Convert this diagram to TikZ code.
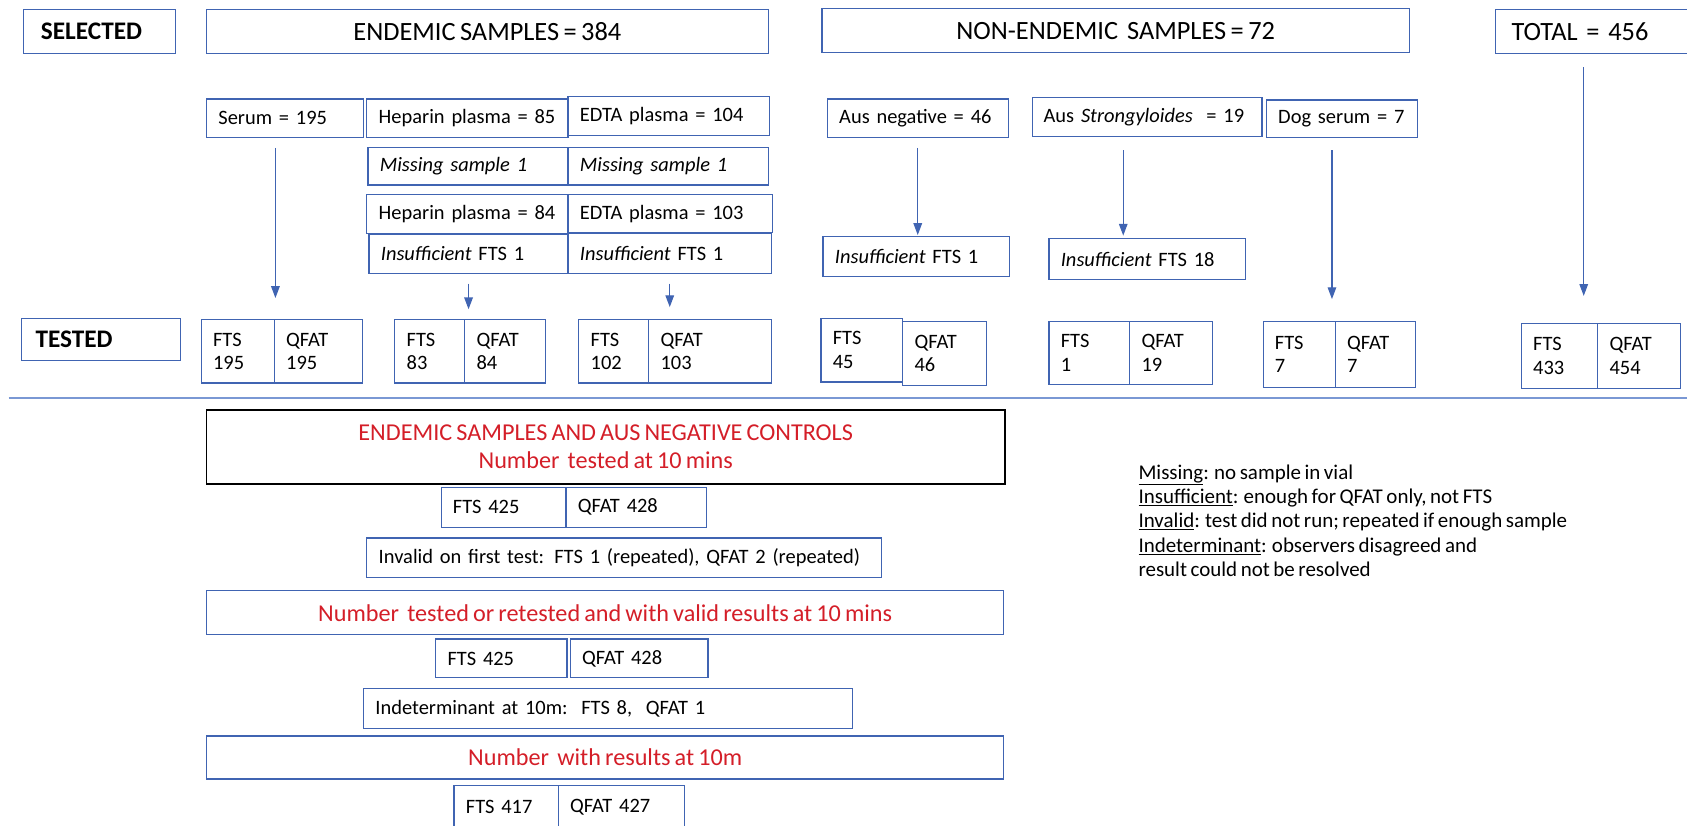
\documentclass[tikz,border=0pt]{standalone}
\usepackage{fontspec}
\setmainfont{Carlito}[WordSpace=0.75]
\usetikzlibrary{arrows.meta}
\definecolor{boxblue}{RGB}{64,100,178}
\definecolor{ruleblue}{RGB}{122,152,212}
\definecolor{textred}{RGB}{212,30,40}

\begin{document}
\begin{tikzpicture}[x=1pt,y=-1pt,
    box/.style={draw=boxblue, line width=1.1pt, inner xsep=11pt, inner ysep=0pt,
      minimum height=36pt, font=\fontsize{19}{22}\selectfont},
    lbox/.style={text width=#1, align=left},
    head/.style={box, minimum height=41pt, font=\fontsize{24.5}{28}\selectfont},
    cell/.style={lbox=#1, minimum height=59pt},
    redbox/.style={box, text=textred, align=center, font=\fontsize{22.5}{26}\selectfont},
    arr/.style={draw=boxblue, line width=1.1pt, -{Triangle[width=8pt,length=11pt]}}]
  \useasboundingbox (0,0) rectangle (1568,767);

  % selected
  \node[head, lbox=109, inner xsep=16pt, font=\bfseries\fontsize{23.5}{28}\selectfont] (sel) at (92.5,29.5) {SELECTED};
  \node[head, minimum width=522pt] (endemic) at (453,29.5) {ENDEMIC SAMPLES = 384};
  \node[head, minimum width=546pt] (nonend) at (1037,28.5) {NON-ENDEMIC\ \ SAMPLES = 72};
  \node[head, lbox=170, inner xsep=15pt] (total) at (1490,29.5) {TOTAL = 456};

  % endemic sample types
  \node[box, lbox=124] (serum) at (265,110) {Serum = 195};
  \node[box, lbox=165] (hep85) at (434.5,110) {Heparin plasma = 85};
  \node[box, lbox=165] (edta104) at (621.5,108) {EDTA plasma = 104};
  \node[box, lbox=164, minimum height=35pt] (miss1) at (435,154.5) {\textit{Missing sample 1}};
  \node[box, lbox=164, minimum height=35pt] (miss2) at (621,154.5) {\textit{Missing sample 1}};
  \node[box, lbox=165] (hep84) at (434.5,199) {Heparin plasma = 84};
  \node[box, lbox=168, minimum height=35pt] (edta103) at (623,198.5) {EDTA plasma = 103};
  \node[box, lbox=163] (ins1) at (435.5,236) {\textit{Insufficient} FTS 1};
  \node[box, lbox=167, minimum height=37pt] (ins2) at (622.5,235.5) {\textit{Insufficient} FTS 1};

  % non-endemic sample types
  \node[box, lbox=146] (ausneg) at (853,110) {Aus negative = 46};
  \node[box, lbox=193, inner xsep=10pt] (ausstr) at (1066.5,109) {Aus \textit{Strongyloides}\ \ = 19};
  \node[box, lbox=119, inner xsep=10.5pt, minimum height=35pt] (dog) at (1247.5,110.5) {Dog serum = 7};
  \node[box, lbox=151, minimum height=37pt] (insA) at (851.5,238.5) {\textit{Insufficient} FTS 1};
  \node[box, lbox=161, minimum height=38pt] (insB) at (1066.5,241) {\textit{Insufficient} FTS 18};

  % tested
  \node[head, lbox=122, minimum height=39pt, inner xsep=13pt, font=\bfseries\fontsize{23.5}{28}\selectfont] (tested) at (94,315.5) {TESTED};
  \node[box, cell=46] (f195) at (221,326.5) {FTS\\195};
  \node[box, cell=60] (q195) at (296,326.5) {QFAT\\195};
  \node[box, cell=43] (f83) at (399.5,326.5) {FTS\\83};
  \node[box, cell=53] (q84) at (469.5,326.5) {QFAT\\84};
  \node[box, cell=43] (f102) at (570.5,326.5) {FTS\\102};
  \node[box, cell=92] (q103) at (660,326.5) {QFAT\\103};
  \node[box, cell=54] (f45) at (801,325.5) {FTS\\45};
  \node[box, cell=56] (q46) at (878,328.5) {QFAT\\46};
  \node[box, cell=53, minimum height=58pt] (f1) at (1012.5,328) {FTS\\1};
  \node[box, cell=55, minimum height=58pt] (q19) at (1088.5,328) {QFAT\\19};
  \node[box, cell=45, minimum height=61pt] (f7) at (1207.5,329.5) {FTS\\7};
  \node[box, cell=53, minimum height=61pt] (q7) at (1278.5,329.5) {QFAT\\7};
  \node[box, cell=49, minimum height=60pt] (f433) at (1449.5,331) {FTS\\433};
  \node[box, cell=55, minimum height=60pt] (q454) at (1523.5,331) {QFAT\\454};

  % arrows
  \coordinate (serumtip) at (256,277);
  \coordinate (strtip) at (1044,219);
  \coordinate (dogtip) at (1238,278);
  \coordinate (totaltip) at (1472,275);
  \draw[arr, shorten <=9pt] (serum.south -| serumtip) -- (serumtip);
  \draw[arr, shorten <=9pt, shorten >=9pt] (ins1.south) -- (ins1.south |- f83.north);
  \draw[arr, shorten <=9pt, shorten >=11pt] (ins2.south) -- (ins2.south |- f102.north);
  \draw[arr, shorten <=9pt, shorten >=1pt] (ausneg.south) -- (ausneg.south |- insA.north);
  \draw[arr, shorten <=12pt] (ausstr.south -| strtip) -- (strtip);
  \draw[arr, shorten <=11pt] (dog.south -| dogtip) -- (dogtip);
  \draw[arr, shorten <=12pt] (total.south -| totaltip) -- (totaltip);

  % rule
  \coordinate (ruleL) at (8,370);
  \coordinate (ruleR) at (1568,370);
  \draw[ruleblue, line width=1.6pt] (ruleL) -- (ruleR);

  % results at 10 mins
  \node[redbox, draw=black, line width=1.3pt, minimum width=742pt, minimum height=69pt] (ctrl) at (563,415.5)
    {ENDEMIC SAMPLES AND AUS NEGATIVE CONTROLS\\Number\ \ tested at 10 mins};
  \node[box, lbox=94, minimum height=37pt] (fA) at (468,471.5) {FTS 425};
  \node[box, lbox=109, minimum height=37pt] (qA) at (591.5,471.5) {QFAT 428};
  \node[box, lbox=456, minimum height=37pt] (invalid) at (580,518.5) {Invalid on first test: FTS 1 (repeated), QFAT 2 (repeated)};
  \node[redbox, minimum width=741pt, minimum height=41pt] (valid) at (562.5,569.5)
    {Number\ \ tested or retested and with valid results at 10 mins};
  \node[box, lbox=100] (fB) at (466,612) {FTS 425};
  \node[box, lbox=106] (qB) at (594,612) {QFAT 428};
  \node[box, lbox=432, minimum height=37pt] (indet) at (565,658.5) {Indeterminant at 10m:\ \ FTS 8,\ \ QFAT 1};
  \node[redbox, minimum width=741pt, minimum height=40pt] (res) at (562.5,704) {Number\ \ with results at 10m};
  \node[box, lbox=75, minimum height=40pt] (fC) at (470.5,750) {FTS 417};
  \node[box, lbox=95, minimum height=40pt] (qC) at (577.5,750) {QFAT 427};

  % legend
  \node[anchor=north west, inner sep=0pt, align=left, font=\fontsize{19.5}{22.5}\selectfont] (legend) at (1058,432)
    {\underline{Missing}: no sample in vial\\
     \underline{Insufficient}: enough for QFAT only, not FTS\\
     \underline{Invalid}: test did not run; repeated if enough sample\\
     \underline{Indeterminant}: observers disagreed and\\
     result could not be resolved};
\end{tikzpicture}
\end{document}
